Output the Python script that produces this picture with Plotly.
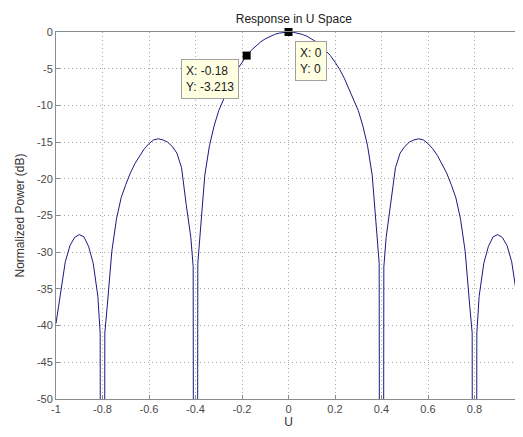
import plotly.graph_objects as go

# right half of the (symmetric) response
u_half = [0.00, 0.02, 0.04, 0.06, 0.08, 0.10, 0.12, 0.14, 0.16, 0.18, 0.20, 0.22, 0.24,
          0.26, 0.28, 0.30, 0.32, 0.34, 0.36, 0.38, 0.39, 0.40, 0.41, 0.42, 0.44, 0.46,
          0.48, 0.50, 0.52, 0.54, 0.56, 0.58, 0.60, 0.62, 0.64, 0.66, 0.68, 0.70, 0.72,
          0.74, 0.76, 0.78, 0.79, 0.80, 0.81, 0.82, 0.84, 0.86, 0.88, 0.90, 0.92, 0.94,
          0.96, 0.98, 1.00]
p_half = [0.0, -0.04, -0.15, -0.33, -0.59, -0.93, -1.35, -1.85, -2.49, -3.213, -4.1, -5.1,
          -6.3, -7.7, -9.2, -10.7, -12.8, -15.5, -19.5, -27.5, -31.5, -300.0, -32.0, -28.0,
          -23.5, -18.5, -16.5, -15.6, -15.0, -14.7, -14.55, -14.7, -15.2, -15.9, -16.8,
          -17.9, -19.2, -20.8, -22.6, -25.5, -29.9, -37.5, -41.0, -300.0, -41.0, -36.0,
          -31.5, -29.2, -27.9, -27.6, -28.0, -29.1, -31.3, -35.5, -39.7]

u = [-v for v in reversed(u_half[1:])] + u_half
p = list(reversed(p_half[1:])) + p_half

tips_x = [-0.18, 0.0]
tips_y = [-3.213, 0.0]

x_ticks = [-1, -0.8, -0.6, -0.4, -0.2, 0, 0.2, 0.4, 0.6, 0.8, 1]
x_labels = ["-1", "-0.8", "-0.6", "-0.4", "-0.2", "0", "0.2", "0.4", "0.6", "0.8", "1"]
y_ticks = [0, -5, -10, -15, -20, -25, -30, -35, -40, -45, -50]
y_labels = ["0", "-5", "-10", "-15", "-20", "-25", "-30", "-35", "-40", "-45", "-50"]

fig = go.Figure()
fig.add_trace(go.Scatter(x=u, y=p, mode="lines",
                         line=dict(color="#1a1a80", width=1), showlegend=False))
fig.add_trace(go.Scatter(x=tips_x, y=tips_y, mode="markers",
                         marker=dict(symbol="square", size=8, color="black"),
                         showlegend=False, cliponaxis=False))

FAM = "Liberation Sans, Arial, sans-serif"
font = dict(family=FAM, size=11, color="#4a4a4a")
tipfont = dict(family=FAM, size=12, color="#202020")

fig.add_annotation(x=-0.4625, y=-3.68, xref="x", yref="y", xanchor="left", yanchor="top",
                   text="X: -0.18<br>Y: -3.213", showarrow=False, align="left",
                   bgcolor="#ffffe1", bordercolor="#a0a0a0", borderwidth=1, borderpad=4,
                   font=tipfont)
fig.add_annotation(x=0.026, y=-1.28, xref="x", yref="y", xanchor="left", yanchor="top",
                   text="X: 0<br>Y: 0", showarrow=False, align="left",
                   bgcolor="#ffffe1", bordercolor="#a0a0a0", borderwidth=1, borderpad=4,
                   font=tipfont)

axis_common = dict(showline=True, linecolor="#8c8c8c", linewidth=1, mirror=True,
                   ticks="inside", ticklen=4, tickcolor="#8c8c8c",
                   showgrid=True, gridcolor="#a8a8a8", griddash="1px,3px", gridwidth=1,
                   zeroline=False, tickfont=font, automargin=False)

fig.update_xaxes(range=[-1, 1], tickvals=x_ticks, ticktext=x_labels,
                 title=dict(text="U", font=dict(family=FAM, size=12, color="#333333"), standoff=2),
                 **axis_common)
fig.update_yaxes(range=[-50, 0], tickvals=y_ticks, ticktext=y_labels,
                 title=dict(text="Normalized Power (dB)", font=dict(family=FAM, size=12, color="#333333"),
                            standoff=9),
                 **axis_common)

# the page adds an 8px body margin, so the figure is 8px smaller than the window
fig.update_layout(
    width=515, height=429,
    margin=dict(l=48, r=2, t=24, b=38),
    paper_bgcolor="white", plot_bgcolor="white",
    title=dict(text="Response in U Space", x=0.555, xanchor="center", y=0.985, yanchor="top",
               font=dict(family=FAM, size=12, color="#202020")),
)

fig.write_html("out.html")
